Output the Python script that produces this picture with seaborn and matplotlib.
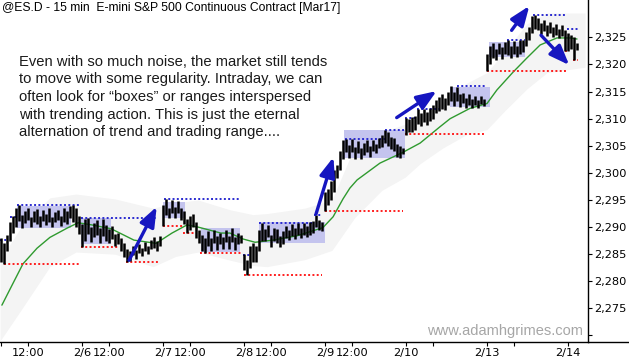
import matplotlib
matplotlib.use("Agg")
import matplotlib.pyplot as plt
from matplotlib.patches import Rectangle
from matplotlib.lines import Line2D
import numpy as np
import pandas as pd
import seaborn as sns

# ---------------- data ----------------
sessions = ['2/3', '2/6', '2/7', '2/8', '2/9', '2/10', '2/13', '2/14']
bars_per_session = 27
noon_bar = 9

high_0203 = [2288.0, 2287.0, 2288.5, 2291.0, 2292.0, 2293.5, 2294.0, 2292.2, 2293.0, 2293.6, 2291.8, 2292.9, 2293.3, 2292.0, 2293.1, 2292.4, 2293.5, 2291.9, 2292.8, 2293.2, 2292.1, 2293.6, 2293.0, 2293.9, 2294.1, 2293.5, 2292.0]
low_0203 = [2283.5, 2283.2, 2285.5, 2287.5, 2289.0, 2290.0, 2291.2, 2289.8, 2290.8, 2291.3, 2290.0, 2291.0, 2290.6, 2290.0, 2291.2, 2290.3, 2291.0, 2290.0, 2290.9, 2291.3, 2290.2, 2291.0, 2290.5, 2291.6, 2291.0, 2290.0, 2288.8]

high_0206 = [2290.5, 2291.5, 2291.7, 2290.0, 2290.8, 2291.3, 2289.8, 2291.5, 2290.3, 2289.6, 2290.2, 2288.8, 2289.0, 2288.0, 2287.0, 2286.0, 2285.5, 2286.6, 2285.8, 2286.8, 2286.2, 2287.2, 2286.6, 2287.6, 2288.2, 2287.4, 2288.4]
low_0206 = [2286.4, 2287.5, 2288.8, 2287.2, 2288.2, 2288.6, 2287.0, 2288.4, 2287.4, 2287.0, 2287.8, 2286.5, 2286.8, 2285.5, 2284.5, 2283.6, 2283.8, 2284.8, 2284.2, 2285.2, 2284.6, 2285.5, 2285.0, 2286.0, 2286.2, 2285.6, 2286.6]

high_0207 = [2294.0, 2295.1, 2293.6, 2295.0, 2293.8, 2294.8, 2293.5, 2293.0, 2291.5, 2292.0, 2292.5, 2291.0, 2289.5, 2288.5, 2288.0, 2289.2, 2288.0, 2289.4, 2288.3, 2289.0, 2288.2, 2289.5, 2288.4, 2289.8, 2288.2, 2288.9, 2288.5]
low_0207 = [2290.2, 2292.2, 2291.6, 2292.6, 2291.6, 2292.6, 2291.4, 2290.5, 2288.9, 2289.5, 2290.0, 2288.0, 2287.0, 2285.5, 2285.3, 2286.6, 2285.6, 2287.0, 2285.8, 2286.8, 2285.9, 2287.2, 2286.0, 2287.3, 2285.8, 2286.8, 2287.0]

high_0208 = [2285.0, 2284.0, 2286.5, 2287.0, 2286.5, 2289.5, 2290.8, 2289.6, 2290.4, 2288.6, 2289.8, 2289.6, 2288.4, 2289.2, 2290.2, 2289.4, 2290.6, 2289.8, 2290.7, 2289.9, 2290.8, 2290.2, 2290.9, 2291.2, 2292.3, 2291.4, 2291.0]
low_0208 = [2282.0, 2281.1, 2282.5, 2283.5, 2283.5, 2285.5, 2287.5, 2287.4, 2288.2, 2286.4, 2287.4, 2287.0, 2286.3, 2286.8, 2287.9, 2287.6, 2288.4, 2287.8, 2288.5, 2288.0, 2288.6, 2288.2, 2288.6, 2289.0, 2290.0, 2289.4, 2289.3]

high_0209 = [2296.5, 2297.0, 2298.5, 2300.5, 2301.5, 2304.0, 2306.0, 2306.3, 2305.2, 2306.2, 2304.8, 2305.8, 2304.6, 2305.5, 2306.0, 2305.0, 2306.0, 2305.4, 2306.5, 2307.0, 2307.9, 2307.5, 2306.6, 2306.5, 2305.4, 2305.0, 2304.6]
low_0209 = [2293.0, 2294.0, 2295.0, 2296.5, 2299.0, 2300.5, 2302.5, 2303.8, 2302.8, 2303.9, 2302.6, 2303.6, 2302.5, 2303.3, 2303.8, 2303.0, 2304.0, 2303.6, 2304.6, 2304.8, 2305.5, 2305.0, 2304.4, 2304.0, 2303.0, 2302.8, 2303.4]

high_0210 = [2310.2, 2310.0, 2310.3, 2310.5, 2311.7, 2311.0, 2311.7, 2311.2, 2312.0, 2312.5, 2313.5, 2314.0, 2314.5, 2313.8, 2315.0, 2316.0, 2315.0, 2315.8, 2314.6, 2314.8, 2313.9, 2314.5, 2313.6, 2314.2, 2313.4, 2314.2, 2313.6]
low_0210 = [2307.0, 2307.5, 2307.5, 2308.0, 2309.0, 2308.6, 2309.4, 2308.9, 2309.5, 2310.0, 2311.0, 2311.5, 2311.8, 2311.6, 2312.5, 2313.2, 2312.4, 2313.2, 2312.2, 2312.9, 2312.0, 2312.6, 2311.9, 2312.6, 2312.0, 2312.7, 2312.3]

high_0213 = [2322.0, 2323.5, 2324.0, 2322.9, 2324.0, 2323.2, 2324.2, 2324.6, 2323.4, 2324.4, 2323.5, 2324.5, 2324.6, 2326.0, 2327.0, 2329.0, 2329.1, 2328.5, 2327.7, 2328.2, 2327.2, 2327.8, 2326.9, 2327.4, 2326.6, 2327.2, 2326.3]
low_0213 = [2318.8, 2320.0, 2321.2, 2320.8, 2321.9, 2321.0, 2321.9, 2321.8, 2321.2, 2322.0, 2321.4, 2322.0, 2322.3, 2323.5, 2324.5, 2325.8, 2326.5, 2326.3, 2325.6, 2326.1, 2325.2, 2325.8, 2325.0, 2325.5, 2324.8, 2325.3, 2322.5]

high_0214 = [2325.8, 2325.5, 2325.0, 2324.0]
low_0214 = [2322.5, 2322.8, 2320.8, 2322.7]

# moving average (bar index, price)
ma_x = [0.3, 3.7, 7.3, 12, 16.3, 22, 25.7, 30.3, 36.7, 44.3, 51.7, 57, 62, 65.7, 73.3, 76.3, 80.7, 84.7, 90.7, 98.7, 107.3, 110.7, 114, 116.3, 118.7, 126.3, 134, 139.7, 146.3, 149.7, 156.3, 162, 165.3, 170.7, 175.3, 179.7, 185.3, 189.7, 192]
ma_price = [2275.6, 2279.3, 2283.2, 2286.1, 2288.1, 2289.8, 2290.8, 2290.4, 2289.7, 2287.6, 2287.0, 2288.9, 2290.4, 2290.0, 2288.9, 2288.9, 2287.8, 2287.2, 2287.6, 2288.4, 2289.9, 2291.9, 2295.2, 2297.2, 2298.7, 2301.8, 2303.8, 2305.5, 2308.5, 2310.0, 2311.9, 2312.8, 2315.3, 2318.6, 2321.2, 2323.6, 2324.9, 2324.9, 2324.7]

# envelope band (bar index, lower, upper)
band_x = [-0.3, 7.3, 16.3, 25, 38, 50.7, 58.3, 65.7, 76.3, 84, 88.7, 101.3, 110.3, 118, 127, 134.7, 139.7, 147.3, 155, 162, 168, 175.3, 182, 194.7]
band_lower = [2269.0, 2275.2, 2282.7, 2285.4, 2285.0, 2282.7, 2284.6, 2285.4, 2283.9, 2282.9, 2282.7, 2284.0, 2285.7, 2291.8, 2296.8, 2299.2, 2301.7, 2304.6, 2307.0, 2308.0, 2311.5, 2315.5, 2318.5, 2319.5]
band_upper = [2284.0, 2290.5, 2295.4, 2296.1, 2295.2, 2293.5, 2294.5, 2295.0, 2293.2, 2292.3, 2292.5, 2293.5, 2295.0, 2305.0, 2307.5, 2309.0, 2310.5, 2313.0, 2316.5, 2318.5, 2322.5, 2327.5, 2329.5, 2329.5]

# trading-range boxes
box_start = [5.3, 26.7, 54.0, 66.7, 86.0, 114.3, 149.7, 162.7]
box_end = [23.3, 36.7, 61.3, 79.7, 108.0, 134.7, 163.0, 174.7]
box_low = [2289.8, 2286.8, 2291.6, 2285.4, 2287.1, 2302.7, 2312.1, 2321.4]
box_high = [2293.9, 2291.7, 2294.7, 2289.8, 2291.0, 2307.9, 2315.9, 2324.2]

# dotted high / low markers
hi_start = [-0.3, 3.0, 5.3, 26.7, 54.3, 80.7, 86.0, 104.3, 114.7, 128.0, 134.7, 138.7, 152.0, 168.7, 177.3, 188.7]
hi_end = [1.7, 5.3, 26.3, 52.0, 80.0, 83.0, 103.7, 107.0, 128.0, 134.7, 138.7, 146.3, 161.3, 174.7, 188.7, 192.3]
hi_price = [2287.6, 2291.8, 2294.0, 2291.7, 2295.1, 2284.9, 2290.8, 2292.3, 2306.2, 2307.9, 2310.2, 2311.7, 2316.0, 2324.6, 2329.1, 2326.5]

lo_start = [1.0, 26.7, 41.7, 54.0, 60.7, 66.3, 81.0, 108.0, 134.7, 162.0, 188.0, 190.7]
lo_end = [26.3, 39.0, 53.0, 60.7, 64.7, 80.0, 107.0, 134.0, 161.0, 188.7, 189.0, 192.3]
lo_price = [2283.2, 2286.4, 2283.6, 2290.2, 2288.9, 2285.3, 2281.1, 2293.0, 2307.1, 2318.8, 2322.5, 2320.8]

# arrows (tail x, tail price, tip x, tip price)
arrow_x0 = [42.7, 105.0, 131.9, 170.2, 180.0]
arrow_y0 = [2283.9, 2292.4, 2310.2, 2326.3, 2325.4]
arrow_x1 = [51.9, 110.8, 145.2, 176.1, 189.4]
arrow_y1 = [2293.75, 2302.9, 2315.1, 2330.8, 2319.9]

title = "@ES.D - 15 min  E-mini S&P 500 Continuous Contract [Mar17]"
note_lines = [
    "Even with so much noise, the market still tends",
    "to move with some regularity. Intraday, we can",
    "often look for \u201cboxes\u201d or ranges interspersed",
    "with trending action. This is just the eternal",
    "alternation of trend and trading range....",
]
watermark = "www.adamhgrimes.com"
y_ticks = [2270, 2275, 2280, 2285, 2290, 2295, 2300, 2305, 2310, 2315, 2320, 2325]

# ---------------- build frame ----------------
highs = [high_0203, high_0206, high_0207, high_0208, high_0209, high_0210, high_0213, high_0214]
lows = [low_0203, low_0206, low_0207, low_0208, low_0209, low_0210, low_0213, low_0214]
rows = []
for k, (hs, ls) in enumerate(zip(highs, lows)):
    for i, (h, l) in enumerate(zip(hs, ls)):
        rows.append((k * bars_per_session + i, h, l))
bars = pd.DataFrame(rows, columns=['x', 'high', 'low'])

# ---------------- plot ----------------
sns.set_theme(style='white')
plt.rcParams['font.family'] = ['DejaVu Sans']

W, H = 629, 360
fig = plt.figure(figsize=(W / 100, H / 100), dpi=100)
ax = fig.add_axes([0, 18 / H, 588 / W, 342 / H])
ax.set_facecolor('white')

ax.fill_between(band_x, band_lower, band_upper, color='#f4f4f4', lw=0, zorder=0)

for x0, x1, lo, hi in zip(box_start, box_end, box_low, box_high):
    ax.add_patch(Rectangle((x0, lo), x1 - x0, hi - lo, facecolor='#c4c4ee', edgecolor='none', zorder=1))

sns.lineplot(x=ma_x, y=ma_price, color='#2f9a2f', lw=1.0, ax=ax, zorder=2, sort=False)

for x0, x1, p in zip(hi_start, hi_end, hi_price):
    ax.plot([x0, x1], [p, p], color='#2a2ad0', lw=1.4, ls=(0, (1, 1.2)), zorder=3, solid_capstyle='butt')
for x0, x1, p in zip(lo_start, lo_end, lo_price):
    ax.plot([x0, x1], [p, p], color='#ff1e1e', lw=1.4, ls=(0, (1, 1.2)), zorder=3, solid_capstyle='butt')

ax.vlines(bars['x'], bars['low'], bars['high'], color='black', lw=1.8, zorder=4)

for x0, y0, x1, y1 in zip(arrow_x0, arrow_y0, arrow_x1, arrow_y1):
    ax.annotate('', xy=(x1, y1), xytext=(x0, y0),
                arrowprops=dict(arrowstyle='-|>,head_length=0.85,head_width=0.33',
                                color='#1616c0', lw=2.4, mutation_scale=14,
                                shrinkA=0, shrinkB=0), zorder=5)

ax.set_xlim(-1 / 3, 587 / 3)
ax.set_ylim(2268.8, 2331.9)

# ticks
xt, xl = [], []
for k, s in enumerate(sessions):
    x = k * bars_per_session
    xt.append(x)
    xl.append('' if k == 0 else s)
    xt.append(x + noon_bar)
    xl.append('12:00' if k in (0, 1, 2, 3, 4) else '')
sel = [i for i, v in enumerate(xt) if v <= 587 / 3]
ax.set_xticks([xt[i] for i in sel])
ax.set_xticklabels([xl[i] for i in sel])
ax.set_yticks(y_ticks)
ax.set_yticklabels(['' if v == 2270 else f"{v:,}" for v in y_ticks])
ax.yaxis.tick_right()
ax.tick_params(axis='both', direction='out', length=3, width=0.8, color='black',
               labelsize=8.2, labelcolor='black', pad=1.5)
ax.tick_params(axis='x', bottom=True)
ax.tick_params(axis='y', right=True, left=False)
for side in ['left', 'top']:
    ax.spines[side].set_visible(False)
for side in ['right', 'bottom']:
    ax.spines[side].set_visible(True)
    ax.spines[side].set_color('black')
    ax.spines[side].set_linewidth(1.0)
ax.grid(False)

fig.add_artist(Line2D([588 / W, 1], [18 / H, 18 / H], color='black', lw=1.0, transform=fig.transFigure))

fig.text(2 / W, 1 - 8.5 / H, title, ha='left', va='center', fontsize=8.7,
         family=['Liberation Sans', 'DejaVu Sans'], color='black')

for i, line in enumerate(note_lines):
    fig.text(19 / W, 1 - (62 + 17.5 * i) / H, line, ha='left', va='center', fontsize=10.6,
             family=['Liberation Sans', 'DejaVu Sans'], color='#1a1a1a')

fig.text(583 / W, 1 - 331 / H, watermark, ha='right', va='center', fontsize=10.5,
         family=['Liberation Sans', 'DejaVu Sans'], color='#a6a6a6')

fig.savefig('out.png', dpi=100)
